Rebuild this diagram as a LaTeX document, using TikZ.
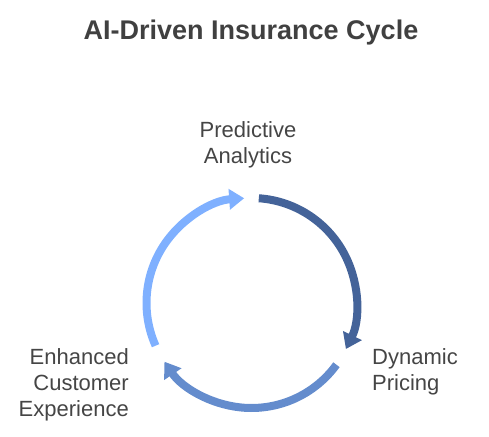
\documentclass[tikz,border=0pt]{standalone}
\usepackage{fontspec}
\setmainfont{Liberation Sans}
\usetikzlibrary{arrows.meta}
\definecolor{titlegray}{HTML}{404040}
\definecolor{textgray}{HTML}{454545}
\definecolor{arcdark}{HTML}{446399}
\definecolor{arcmid}{HTML}{648CCD}
\definecolor{arclight}{HTML}{7FB0FF}

\begin{document}
\begin{tikzpicture}[x=1pt,y=1pt]
\useasboundingbox (0,0) rectangle (489,436);

\node[font=\fontsize{27}{32}\selectfont\bfseries, text=titlegray, anchor=base] (title) at (251,396) {AI-Driven Insurance Cycle};

\begin{scope}[every node/.style={font=\fontsize{22}{26}\selectfont, text=textgray, inner sep=0pt}]
    % base anchor sits on the last line
    \node[align=center, anchor=base]      (P) at (248,272) {Predictive\\Analytics};
    \node[align=left,   anchor=base west] (D) at (372,46)  {Dynamic\\Pricing};
    \node[align=right,  anchor=base east] (E) at (129,20)  {Enhanced\\Customer\\Experience};
\end{scope}

\coordinate (C) at (251.5,133);

\begin{scope}[line width=8pt, -{Triangle[width=20pt,length=15pt]}]
    \draw[arcdark]  ([shift={(86:105)}]C)  arc[start angle=86,  end angle=-26,  radius=105];
    \draw[arcmid]   ([shift={(-36:105)}]C) arc[start angle=-36, end angle=-146, radius=105];
    \draw[arclight] ([shift={(204:105)}]C) arc[start angle=204, end angle=94,   radius=105];
\end{scope}
\end{tikzpicture}
\end{document}
